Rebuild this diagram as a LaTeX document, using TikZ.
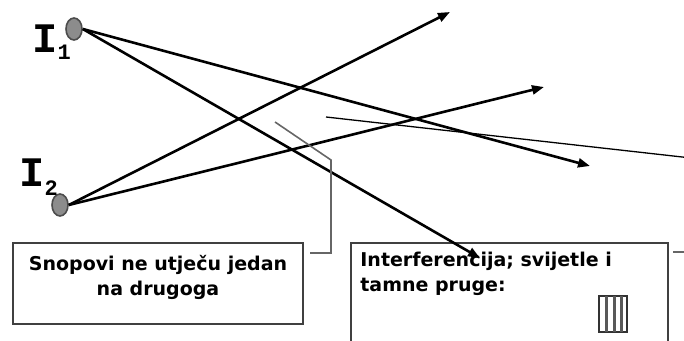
\documentclass[tikz,border=0pt]{standalone}
\usepackage{fontspec}
\setmainfont{DejaVu Sans}
\newfontfamily\slabfont{Liberation Mono}
\usetikzlibrary{shapes,arrows.meta,positioning,calc}

\begin{document}
\begin{tikzpicture}[
    x=0.5pt, y=-0.5pt,
    source/.style={ellipse, draw=black!70, thick, fill=black!45, minimum width=8pt, minimum height=11pt, inner sep=0pt},
    box/.style={rectangle, draw=black!75, line width=1pt, fill=white, inner sep=0pt},
    txt/.style={font=\fontsize{9.5}{12.5}\selectfont\bfseries, inner sep=0pt},
    srclabel/.style={font=\slabfont\bfseries\fontsize{21}{21}\selectfont, inner sep=0pt, anchor=base west},
    arrow/.style={-{Triangle[length=6pt,width=4.5pt]}, line width=1.3pt},
    pointer/.style={line width=0.65pt},
    callout/.style={draw=black!60, line width=0.8pt}
]
    \clip (0,0) rectangle (684,341);

    % the two sources
    \node[source] (s1) at (74,29) {};
    \node[source] (s2) at (60,205) {};
    \node[srclabel] (l1) at (32,53) {I\raisebox{-3.5pt}{\fontsize{11}{11}\selectfont 1}};
    \node[srclabel] (l2) at (19,187) {I\raisebox{-4.5pt}{\fontsize{11}{11}\selectfont 2}};

    % boxes
    \node[box, minimum width=145pt, minimum height=40.5pt] (beams) at (158,283.5) {};
    \node[txt, align=center, anchor=north] (beamstext) at (158,255) {Snopovi ne utječu jedan\\na drugoga};
    \node[box, anchor=north west, minimum width=158.5pt, minimum height=60pt] (fringes) at (350,242) {};
    \node[txt, align=left, anchor=north west] (fringestext) at (360,252) {Interferencija; svijetle i\\tamne pruge:};

    % small fringe pattern
    \draw[fill=white, draw=black!80, thick] (599,296) rectangle (627,332);
    \foreach \x in {605,612.5,620}
        \fill[black!65] (\x,296) rectangle ++(3,36);

    % beams
    \coordinate (a1) at (590,166);
    \coordinate (a2) at (480,258);
    \coordinate (b1) at (450,12);
    \coordinate (b2) at (544,87);
    \draw[arrow] (s1.east) -- (a1);
    \draw[arrow] (s1.east) -- (a2);
    \draw[arrow] (s2.east) -- (b1);
    \draw[arrow] (s2.east) -- (b2);

    % callouts
    \coordinate (c1) at (310,253);
    \coordinate (c2) at (331,160);
    \coordinate (c3) at (275,122);
    \draw[callout] (c1) -| (c2) -- (c3);
    \coordinate (d1) at (326,117);
    \coordinate (d2) at (700,159);
    \draw[pointer] (d1) -- (d2);
    \coordinate (e1) at (673,252);
    \coordinate (e2) at (690,252);
    \draw[callout] (e1) -- (e2);
\end{tikzpicture}
\end{document}
